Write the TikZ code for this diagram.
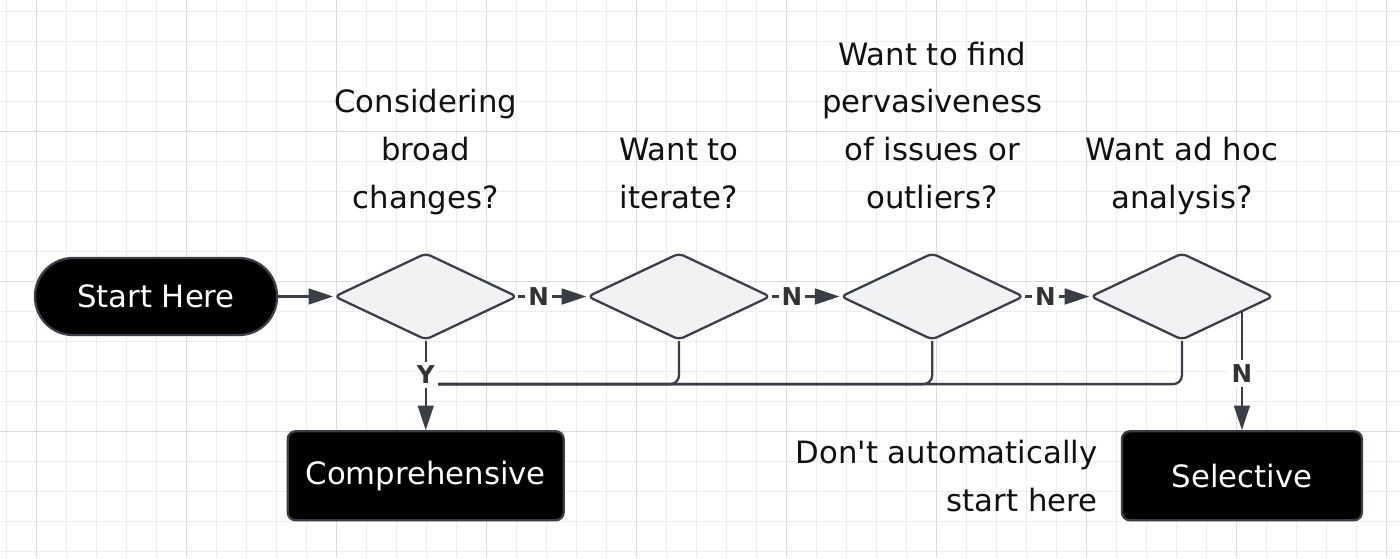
\documentclass[tikz,border=0pt]{standalone}
\usepackage{fontspec}
\setmainfont{DejaVu Sans}[Ligatures=TeXOff]
\usepackage{xcolor}
\usetikzlibrary{arrows.meta,positioning,shapes.geometric}
\definecolor{Edge}{HTML}{3A3E46}
\definecolor{Pale}{HTML}{F1F2F4}
\definecolor{Ink}{HTML}{111111}
\definecolor{Tagink}{HTML}{333333}
\definecolor{GridMinor}{HTML}{EDEDED}
\definecolor{GridMajor}{HTML}{DCDCDC}

\begin{document}
\begin{tikzpicture}[
  x=0.02cm,y=-0.02cm,
  node distance=1.36cm,
  txt/.style={font=\fontsize{17.5}{27.2}\selectfont},
  term/.style={txt,draw=Edge,line width=1.3pt,fill=black,text=white,minimum height=1.54cm,minimum width=4.84cm,rounded corners=0.76cm},
  result/.style={txt,draw=Edge,line width=1.3pt,fill=black,text=white,minimum height=1.78cm,rounded corners=4.5pt},
  choice/.style={diamond,draw=Edge,line width=1.3pt,fill=Pale,minimum width=3.66cm,minimum height=1.74cm,inner sep=0pt,rounded corners=3pt},
  question/.style={txt,text=Ink,align=center,inner sep=0pt,text depth=0pt},
  note/.style={question,align=right},
  flow/.style={-{Triangle[length=14pt,width=9pt]},line width=1.3pt,draw=Edge},
  link/.style={line width=1.3pt,draw=Edge,rounded corners=5pt},
  tag/.style={font=\fontsize{14}{14}\selectfont\bfseries,text=Tagink,fill=white,inner xsep=1.8pt,inner ysep=2.5pt},
  gridminor/.style={draw=GridMinor,line width=0.6pt},
  gridmajor/.style={draw=GridMajor,line width=0.6pt}
]
\fill[white] (0,0) rectangle (1400,558);
\useasboundingbox (0,0) rectangle (1400,558);
\foreach \i in {0,...,46} \draw[gridminor] (6.7+30*\i,0) -- (6.7+30*\i,558);
\foreach \i in {0,...,18} \draw[gridminor] (0,11.7+30*\i) -- (1400,11.7+30*\i);
\foreach \i in {0,...,9} \draw[gridmajor] (36.7+150*\i,0) -- (36.7+150*\i,558);
\foreach \i in {0,...,2} \draw[gridmajor] (0,131.7+150*\i) -- (1400,131.7+150*\i);

\node[term] (start) at (156,296.5) {Start Here};
\node[choice,right=1.1cm of start] (broad) {};
\node[choice,right=of broad] (iterate) {};
\node[choice,right=of iterate] (pervasive) {};
\node[choice,right=1.29cm of pervasive] (adhoc) {};
\node[question,above=8.6mm of broad] {Considering\\broad\\changes?};
\node[question,above=8.6mm of iterate] {Want to\\iterate?};
\node[question,above=8.6mm of pervasive] {Want to find\\pervasiveness\\of issues or\\outliers?};
\node[question,above=8.6mm of adhoc] {Want ad hoc\\analysis?};
\node[result,minimum width=5.52cm,below=1.78cm of broad] (comp) {Comprehensive};
\node[result,minimum width=4.8cm,below=1.78cm of adhoc,xshift=1.2cm] (sel) {Selective};
\node[note,left=0.46cm of sel] (caveat) {Don't automatically\\start here};
\coordinate[below=0.86cm of broad] (merge);

\draw[link] (iterate) |- (merge);
\draw[link] (pervasive) |- (merge);
\draw[link] (adhoc) |- (merge);
\draw[flow] (start) -- (broad);
\draw[flow] (broad) -- node[tag,pos=0.3]{N} (iterate);
\draw[flow] (iterate) -- node[tag,pos=0.3]{N} (pervasive);
\draw[flow] (pervasive) -- node[tag,pos=0.32]{N} (adhoc);
\draw[flow] (broad) -- node[tag,pos=0.38]{Y} (comp);
\draw[flow] (adhoc.-14 -| sel.north) -- node[tag,pos=0.52]{N} (sel);
\end{tikzpicture}
\end{document}
